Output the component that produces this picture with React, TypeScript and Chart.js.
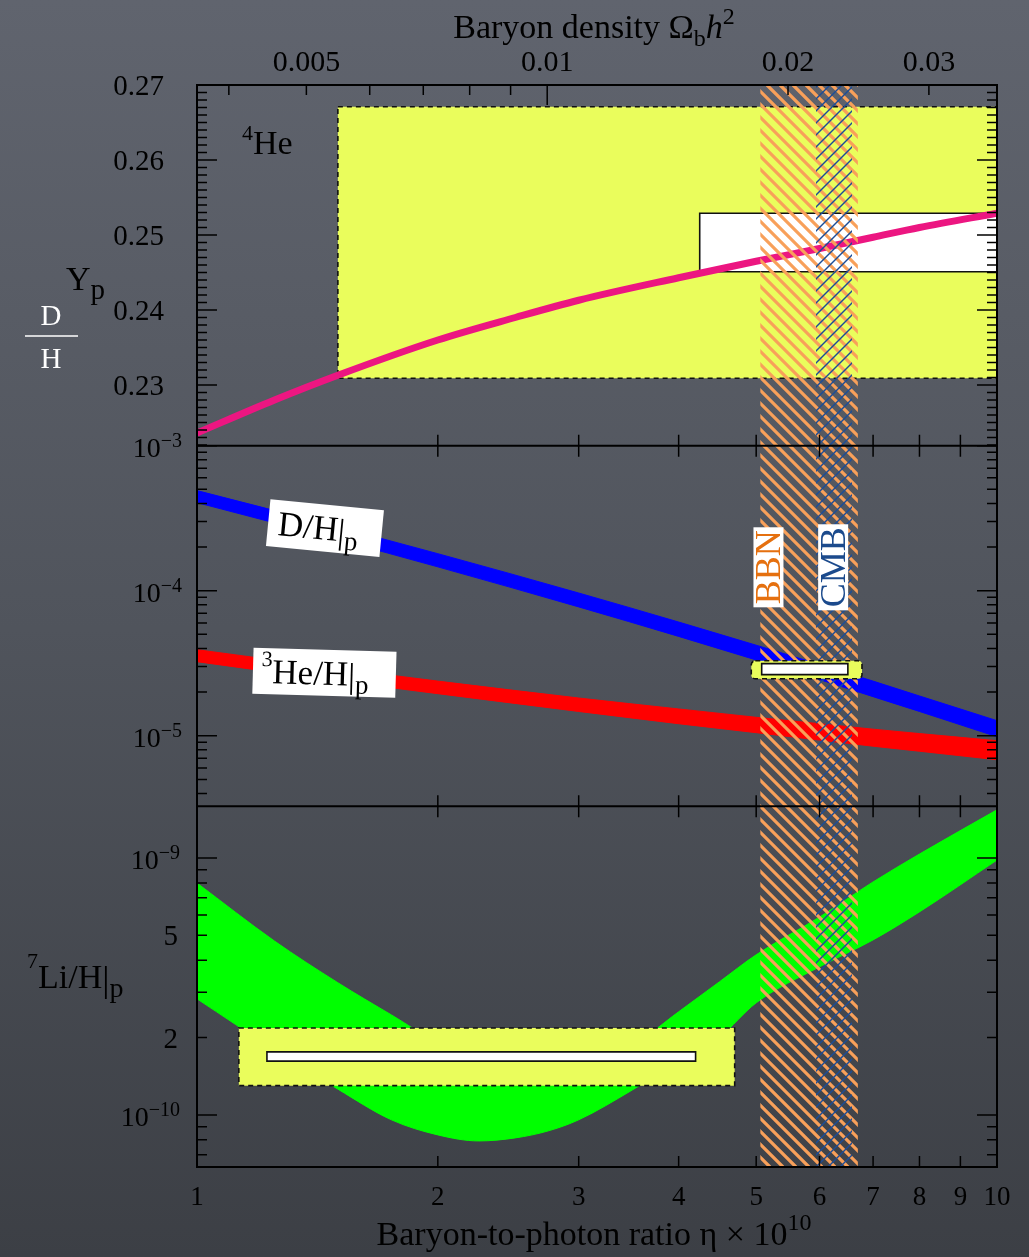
import React, { useEffect, useRef } from 'react';
import { Chart, registerables } from 'chart.js';

Chart.register(...registerables);

const SERIF = '"Liberation Serif", "Times New Roman", serif';

// ---------------- data ----------------
// Helium-4 mass fraction Yp vs eta x 10^10
const etaHe = [1, 1.25, 1.5, 2, 2.5, 3, 4, 5, 6, 7, 8, 10];
const ypHe = [0.2236, 0.228, 0.2313, 0.236, 0.239, 0.2413, 0.2443, 0.2465, 0.2482, 0.2497, 0.251, 0.2529];

// D/H and 3He/H bands
const etaD = [1, 1.5, 2, 3, 4, 5, 6, 7, 8, 10];
const dhUpper = [4.9e-4, 2.75e-4, 1.8e-4, 9.64e-5, 6.08e-5, 4.21e-5, 3.1e-5, 2.38e-5, 1.88e-5, 1.27e-5];
const dhLower = [4.05e-4, 2.25e-4, 1.46e-4, 7.73e-5, 4.84e-5, 3.33e-5, 2.44e-5, 1.86e-5, 1.47e-5, 9.84e-6];
const he3Upper = [3.92e-5, 2.91e-5, 2.38e-5, 1.82e-5, 1.53e-5, 1.34e-5, 1.21e-5, 1.11e-5, 1.035e-5, 9.24e-6];
const he3Lower = [3.24e-5, 2.39e-5, 1.95e-5, 1.47e-5, 1.21e-5, 1.05e-5, 9.33e-6, 8.47e-6, 7.82e-6, 6.83e-6];

// 7Li/H band
const etaLi = [1, 1.25, 1.5, 1.75, 2, 2.25, 2.5, 2.75, 3, 3.5, 4, 4.5, 5, 6, 7, 8, 10];
const liUpper = [7.99e-10, 4.75e-10, 3.27e-10, 2.45e-10, 1.92e-10, 1.71e-10, 1.59e-10, 1.55e-10, 1.61e-10, 1.87e-10, 2.52e-10, 3.3e-10, 4.2e-10, 5.89e-10, 8.07e-10, 1.036e-9, 1.54e-9];
const liLower = [2.83e-10, 1.79e-10, 1.26e-10, 9.57e-11, 8.36e-11, 7.92e-11, 8.14e-11, 8.67e-11, 9.57e-11, 1.25e-10, 1.62e-10, 2.01e-10, 2.73e-10, 3.77e-10, 4.8e-10, 6.17e-10, 9.82e-10];

// observational boxes: [etaMin, etaMax, valueMin, valueMax]
const heObsOuter = [1.5, 10, 0.2309, 0.2671];
const heObsInner = [4.25, 10, 0.2451, 0.2529];
const dhObsOuter = [4.93, 6.78, 2.47e-5, 3.29e-5];
const dhObsInner = [5.08, 6.51, 2.64e-5, 3.14e-5];
const liObsOuter = [1.128, 4.7, 1.3e-10, 2.18e-10];
const liObsInner = [1.223, 4.2, 1.62e-10, 1.76e-10];

// concordance ranges in eta
const bbnBand = [5.06, 6.7];
const cmbBand = [5.94, 6.59];

// axis ticks
const etaTicks = [1, 2, 3, 4, 5, 6, 7, 8, 9, 10];
const etaTickLabels = ['1', '2', '3', '4', '5', '6', '7', '8', '9', '10'];
const omegaTicks = [0.004, 0.005, 0.006, 0.007, 0.008, 0.009, 0.01, 0.02, 0.03];
const omegaLabelValues = [0.005, 0.01, 0.02, 0.03];
const omegaLabels = ['0.005', '0.01', '0.02', '0.03'];
const ETA_PER_OMEGA = 274;
const heTickValues = [0.23, 0.24, 0.25, 0.26, 0.27];
const heTickLabels = ['0.23', '0.24', '0.25', '0.26', '0.27'];
const dSciTicks = [1e-3, 1e-4, 1e-5];
const dSciExps = ['\u22123', '\u22124', '\u22125'];
const liSciTicks = [1e-9, 1e-10];
const liSciExps = ['\u22129', '\u221210'];
const liPlainTicks = [5e-10, 2e-10];
const liPlainLabels = ['5', '2'];

// label anchors (data coordinates)
const dhLabelAt = { eta: 1.445, v: 2.68e-4 };
const he3LabelAt = { eta: 1.443, v: 2.72e-5 };
const bbnLabelAt = { eta: 5.18, v: 1.45e-4 };
const cmbLabelAt = { eta: 6.24, v: 1.45e-4 };
const he4LabelAt = { eta: 1.138, v: 0.2608 };

// -------------- helpers ---------------
const font = (size: number, style = '') => `${style} ${size}px ${SERIF}`.trim();
const pts = (xs: number[], ys: number[]) => xs.map((x, i) => ({ x, y: ys[i] }));

function drawObsBox(ctx: any, chart: any, yId: string, b: number[], fill: string, dashed: boolean, radius = 0) {
  const xs = chart.scales.x;
  const ys = chart.scales[yId];
  const x1 = xs.getPixelForValue(b[0]);
  const x2 = xs.getPixelForValue(b[1]);
  const y1 = ys.getPixelForValue(b[3]);
  const y2 = ys.getPixelForValue(b[2]);
  ctx.save();
  ctx.beginPath();
  if (radius && ctx.roundRect) ctx.roundRect(x1, y1, x2 - x1, y2 - y1, radius);
  else ctx.rect(x1, y1, x2 - x1, y2 - y1);
  ctx.fillStyle = fill;
  ctx.fill();
  ctx.setLineDash(dashed ? [5, 4] : []);
  ctx.lineWidth = 1.6;
  ctx.strokeStyle = '#111';
  ctx.stroke();
  ctx.restore();
}

function hatch(ctx: any, x1: number, x2: number, top: number, bottom: number, period: number, dir: number, color: string, lw: number) {
  ctx.save();
  ctx.beginPath();
  ctx.rect(x1, top, x2 - x1, bottom - top);
  ctx.clip();
  ctx.strokeStyle = color;
  ctx.lineWidth = lw;
  ctx.beginPath();
  const h = bottom - top;
  const start = Math.floor((x1 - h - 20) / period) * period;
  for (let x = start; x < x2 + h + 20; x += period) {
    if (dir > 0) {
      ctx.moveTo(x, top);
      ctx.lineTo(x + h, bottom);
    } else {
      ctx.moveTo(x, bottom);
      ctx.lineTo(x + h, top);
    }
  }
  ctx.stroke();
  ctx.restore();
}

function logTickList(min: number, max: number) {
  const out: { v: number; major: boolean }[] = [];
  for (let d = Math.floor(Math.log10(min)); d <= Math.ceil(Math.log10(max)); d++) {
    for (let m = 1; m <= 9; m++) {
      const v = m * Math.pow(10, d);
      if (v >= min * 0.999 && v <= max * 1.001) out.push({ v, major: m === 1 });
    }
  }
  return out;
}

function sciLabel(ctx: any, rightX: number, y: number, exp: string) {
  ctx.font = font(28);
  const bw = ctx.measureText('10').width;
  ctx.font = font(20);
  const ew = ctx.measureText(exp).width;
  ctx.fillStyle = '#000';
  ctx.textAlign = 'left';
  ctx.font = font(28);
  ctx.fillText('10', rightX - ew - bw, y + 11);
  ctx.font = font(20);
  ctx.fillText(exp, rightX - ew, y + 1);
}

function runs(ctx: any, x: number, parts: { t: string; size: number; dy: number; style?: string; color?: string }[], baseY: number) {
  let cx = x;
  for (const p of parts) {
    ctx.font = font(p.size, p.style || '');
    if (p.color) ctx.fillStyle = p.color;
    ctx.fillText(p.t, cx, baseY + p.dy);
    cx += ctx.measureText(p.t).width;
  }
  return cx;
}

function runsWidth(ctx: any, parts: { t: string; size: number; style?: string }[]) {
  let w = 0;
  for (const p of parts) {
    ctx.font = font(p.size, p.style || '');
    w += ctx.measureText(p.t).width;
  }
  return w;
}

const panelPlugin = {
  id: 'panels',
  beforeDraw(chart: any) {
    const ctx = chart.ctx;
    const g = ctx.createLinearGradient(0, 0, 0, chart.height);
    g.addColorStop(0, '#60646e');
    g.addColorStop(0.5, '#50545c');
    g.addColorStop(1, '#3c3f45');
    ctx.save();
    ctx.fillStyle = g;
    ctx.fillRect(0, 0, chart.width, chart.height);
    ctx.restore();
  },
  beforeDatasetsDraw(chart: any) {
    const ctx = chart.ctx;
    drawObsBox(ctx, chart, 'yHe', heObsOuter, '#eafd5c', true);
    drawObsBox(ctx, chart, 'yHe', heObsInner, '#ffffff', false);
  },
  afterDatasetsDraw(chart: any) {
    const ctx = chart.ctx;
    const ca = chart.chartArea;
    const xs = chart.scales.x;
    const sHe = chart.scales.yHe;
    const sD = chart.scales.yD;
    const sLi = chart.scales.yLi;
    const X = (v: number) => xs.getPixelForValue(v);

    // hatched concordance bands
    hatch(ctx, X(bbnBand[0]), X(bbnBand[1]), ca.top, ca.bottom, 13, 1, '#f8a05a', 3.2);
    hatch(ctx, X(cmbBand[0]), X(cmbBand[1]), ca.top, ca.bottom, 12, -1, '#1b4c98', 1.4);

    // observational boxes on top
    drawObsBox(ctx, chart, 'yD', dhObsOuter, '#eafd5c', true, 4);
    drawObsBox(ctx, chart, 'yD', dhObsInner, '#ffffff', false);
    drawObsBox(ctx, chart, 'yLi', liObsOuter, '#eafd5c', true);
    drawObsBox(ctx, chart, 'yLi', liObsInner, '#ffffff', false);

    ctx.save();
    ctx.textAlign = 'left';
    ctx.textBaseline = 'alphabetic';

    // D/H|p label
    {
      const cx = X(dhLabelAt.eta);
      const cy = sD.getPixelForValue(dhLabelAt.v);
      ctx.save();
      ctx.translate(cx, cy);
      ctx.rotate((5.5 * Math.PI) / 180);
      ctx.fillStyle = '#fff';
      ctx.fillRect(-57, -24, 114, 47);
      ctx.fillStyle = '#000';
      runs(ctx, -47, [
        { t: 'D/H', size: 35, dy: 0 },
        { t: '|', size: 35, dy: 2 },
        { t: 'p', size: 27, dy: 8 },
      ], 11);
      ctx.restore();
    }
    // 3He/H|p label
    {
      const cx = X(he3LabelAt.eta);
      const cy = sD.getPixelForValue(he3LabelAt.v);
      ctx.save();
      ctx.translate(cx, cy);
      ctx.rotate((1.6 * Math.PI) / 180);
      ctx.fillStyle = '#fff';
      ctx.fillRect(-71.5, -23, 143, 46);
      ctx.fillStyle = '#000';
      runs(ctx, -63, [
        { t: '3', size: 22, dy: -17 },
        { t: 'He/H', size: 35, dy: 0 },
        { t: '|', size: 35, dy: 2 },
        { t: 'p', size: 27, dy: 8 },
      ], 12);
      ctx.restore();
    }
    // BBN / CMB vertical labels
    const vLabel = (at: any, text: string, color: string) => {
      const cx = X(at.eta);
      const cy = sD.getPixelForValue(at.v);
      ctx.save();
      ctx.translate(cx, cy);
      ctx.rotate(-Math.PI / 2);
      ctx.font = font(36);
      const w = ctx.measureText(text).width;
      ctx.fillStyle = '#fff';
      ctx.fillRect(-w / 2 - 3, -15, w + 6, 30);
      ctx.fillStyle = color;
      ctx.textAlign = 'center';
      ctx.fillText(text, 0, 12);
      ctx.restore();
    };
    vLabel(bbnLabelAt, 'BBN', '#e5700f');
    vLabel(cmbLabelAt, 'CMB', '#1b4a8c');

    // 4He label
    ctx.fillStyle = '#000';
    runs(ctx, X(he4LabelAt.eta), [
      { t: '4', size: 22, dy: -14 },
      { t: 'He', size: 34, dy: 0 },
    ], sHe.getPixelForValue(he4LabelAt.v));

    // frames
    ctx.strokeStyle = '#000';
    ctx.lineWidth = 2;
    ctx.strokeRect(ca.left, ca.top, ca.right - ca.left, ca.bottom - ca.top);
    ctx.beginPath();
    ctx.moveTo(ca.left, sHe.bottom);
    ctx.lineTo(ca.right, sHe.bottom);
    ctx.moveTo(ca.left, sD.bottom);
    ctx.lineTo(ca.right, sD.bottom);
    ctx.stroke();

    // ticks
    ctx.lineWidth = 1.5;
    ctx.beginPath();
    const yTick = (y: number, len: number) => {
      ctx.moveTo(ca.left, y);
      ctx.lineTo(ca.left + len, y);
      ctx.moveTo(ca.right, y);
      ctx.lineTo(ca.right - len, y);
    };
    for (let k = Math.ceil(sHe.min * 1000); k <= Math.floor(sHe.max * 1000 + 1e-6); k++) {
      yTick(sHe.getPixelForValue(k / 1000), k % 10 === 0 ? 20 : 10);
    }
    for (const t of logTickList(sD.min, sD.max)) yTick(sD.getPixelForValue(t.v), t.major ? 20 : 10);
    for (const t of logTickList(sLi.min, sLi.max)) yTick(sLi.getPixelForValue(t.v), t.major ? 20 : 10);
    for (const e of etaTicks) {
      if (e <= 1 || e >= 10) continue;
      const x = X(e);
      ctx.moveTo(x, sHe.bottom); ctx.lineTo(x, sHe.bottom - 11);
      ctx.moveTo(x, sD.top); ctx.lineTo(x, sD.top + 11);
      ctx.moveTo(x, sD.bottom); ctx.lineTo(x, sD.bottom - 11);
      ctx.moveTo(x, sLi.top); ctx.lineTo(x, sLi.top + 11);
      ctx.moveTo(x, sLi.bottom); ctx.lineTo(x, sLi.bottom - 11);
    }
    for (const o of omegaTicks) {
      const x = X(o * ETA_PER_OMEGA);
      ctx.moveTo(x, ca.top);
      ctx.lineTo(x, ca.top + (Math.abs(o - 0.01) < 1e-9 ? 20 : 10));
    }
    ctx.stroke();

    // tick labels
    ctx.fillStyle = '#000';
    ctx.font = font(29);
    ctx.textAlign = 'right';
    heTickValues.forEach((v, i) => ctx.fillText(heTickLabels[i], ca.left - 33, sHe.getPixelForValue(v) + 10));
    dSciTicks.forEach((v, i) => sciLabel(ctx, ca.left - 15, sD.getPixelForValue(v), dSciExps[i]));
    liSciTicks.forEach((v, i) => sciLabel(ctx, ca.left - 17, sLi.getPixelForValue(v), liSciExps[i]));
    ctx.font = font(29);
    ctx.textAlign = 'right';
    liPlainTicks.forEach((v, i) => ctx.fillText(liPlainLabels[i], ca.left - 19, sLi.getPixelForValue(v) + 10));

    ctx.textAlign = 'center';
    ctx.font = font(27);
    etaTicks.forEach((e, i) => ctx.fillText(etaTickLabels[i], X(e), ca.bottom + 38));
    ctx.font = font(30);
    omegaLabelValues.forEach((o, i) => ctx.fillText(omegaLabels[i], X(o * ETA_PER_OMEGA), ca.top - 14));

    // axis titles
    ctx.textAlign = 'left';
    const mid = (ca.left + ca.right) / 2 - 3;
    const topParts = [
      { t: 'Baryon density \u03A9', size: 34, dy: 0 },
      { t: 'b', size: 24, dy: 8 },
      { t: 'h', size: 34, dy: 0, style: 'italic' },
      { t: '2', size: 24, dy: -14 },
    ];
    runs(ctx, mid - runsWidth(ctx, topParts) / 2, topParts, ca.top - 47);
    const botParts = [
      { t: 'Baryon-to-photon ratio \u03B7 \u00D7 10', size: 34, dy: 0 },
      { t: '10', size: 24, dy: -15 },
    ];
    runs(ctx, mid - runsWidth(ctx, botParts) / 2, botParts, ca.bottom + 78);

    // Y_p
    runs(ctx, 66, [
      { t: 'Y', size: 34, dy: 0 },
      { t: 'p', size: 29, dy: 9 },
    ], 290);
    // D/H fraction (white)
    ctx.fillStyle = '#fff';
    ctx.textAlign = 'center';
    ctx.font = font(29);
    ctx.fillText('D', 51, 325);
    ctx.fillText('H', 51, 368);
    ctx.strokeStyle = '#fff';
    ctx.lineWidth = 1.5;
    ctx.beginPath();
    ctx.moveTo(25, 336);
    ctx.lineTo(78, 336);
    ctx.stroke();
    // 7Li/H|p
    ctx.fillStyle = '#000';
    ctx.textAlign = 'left';
    runs(ctx, 27, [
      { t: '7', size: 22, dy: -20 },
      { t: 'Li/H', size: 34, dy: 0 },
      { t: '|', size: 36, dy: 3 },
      { t: 'p', size: 28, dy: 9 },
    ], 988);

    ctx.restore();
  },
};

export default function App() {
  const ref = useRef<HTMLCanvasElement>(null);
  useEffect(() => {
    const canvas = ref.current;
    if (!canvas) return;
    const band = (color: string) => ({ borderColor: color, backgroundColor: color, borderWidth: 1, pointRadius: 0, cubicInterpolationMode: 'monotone' as const });
    const chart = new Chart(canvas, {
      type: 'line',
      data: {
        datasets: [
          { label: 'Yp', data: pts(etaHe, ypHe), yAxisID: 'yHe', borderColor: '#ec1681', borderWidth: 7, pointRadius: 0, fill: false, cubicInterpolationMode: 'monotone', order: 0 },
          { label: 'Li low', data: pts(etaLi, liLower), yAxisID: 'yLi', fill: false, order: 1, ...band('#00ff00') },
          { label: 'Li high', data: pts(etaLi, liUpper), yAxisID: 'yLi', fill: { target: 1 }, order: 1, ...band('#00ff00') },
          { label: 'D low', data: pts(etaD, dhLower), yAxisID: 'yD', fill: false, order: 2, ...band('#0000ff') },
          { label: 'D high', data: pts(etaD, dhUpper), yAxisID: 'yD', fill: { target: 3 }, order: 2, ...band('#0000ff') },
          { label: 'He3 low', data: pts(etaD, he3Lower), yAxisID: 'yD', fill: false, order: 3, ...band('#ff0000') },
          { label: 'He3 high', data: pts(etaD, he3Upper), yAxisID: 'yD', fill: { target: 5 }, order: 3, ...band('#ff0000') },
        ] as any,
      },
      options: {
        responsive: false,
        animation: false,
        devicePixelRatio: 1,
        events: [],
        layout: { padding: { left: 197, right: 32, top: 85, bottom: 90 } },
        plugins: { legend: { display: false }, tooltip: { enabled: false } },
        scales: {
          x: { type: 'logarithmic', min: 1, max: 10, display: false },
          yHe: { type: 'linear', position: 'left', stack: 'panels', stackWeight: 1, weight: 3, min: 0.22191, max: 0.27, display: false },
          yD: { type: 'logarithmic', position: 'left', stack: 'panels', stackWeight: 1, weight: 2, min: 3.26e-6, max: 1e-3, display: false },
          yLi: { type: 'logarithmic', position: 'left', stack: 'panels', stackWeight: 1, weight: 1, min: 6.27e-11, max: 1.589e-9, display: false },
        } as any,
      },
      plugins: [panelPlugin],
    });
    return () => chart.destroy();
  }, []);
  return (
    <div style={{ position: 'absolute', left: 0, top: 0, width: 1029, height: 1257 }}>
      <canvas ref={ref} width={1029} height={1257} style={{ display: 'block', width: 1029, height: 1257 }} />
    </div>
  );
}
